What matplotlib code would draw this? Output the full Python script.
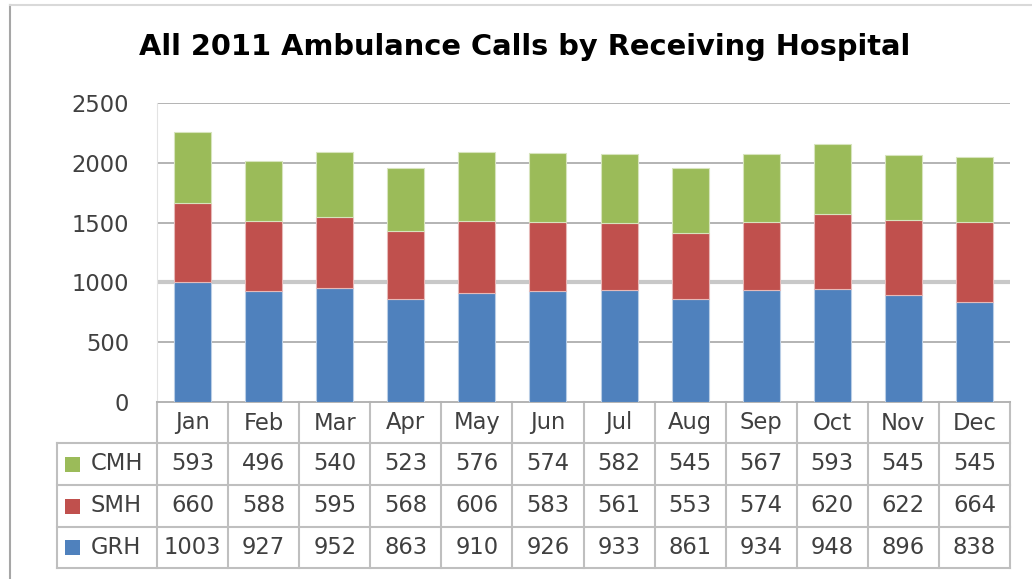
import matplotlib
matplotlib.use("Agg")
import matplotlib.pyplot as plt
from matplotlib.transforms import blended_transform_factory
from matplotlib.lines import Line2D
from matplotlib.patches import Rectangle
import numpy as np

months = ["Jan", "Feb", "Mar", "Apr", "May", "Jun", "Jul", "Aug", "Sep", "Oct", "Nov", "Dec"]
grh = [1003, 927, 952, 863, 910, 926, 933, 861, 934, 948, 896, 838]
smh = [660, 588, 595, 568, 606, 583, 561, 553, 574, 620, 622, 664]
cmh = [593, 496, 540, 523, 576, 574, 582, 545, 567, 593, 545, 545]
series_names = ["CMH", "SMH", "GRH"]
yticks = [0, 500, 1000, 1500, 2000, 2500]
title = "All 2011 Ambulance Calls by Receiving Hospital"

c_blue = "#4F81BD"
c_red = "#C0504D"
c_green = "#9BBB59"
txt = "#404040"
grid = "#B3B3B3"
FS = 16.3

plt.rcParams['font.family'] = ['DejaVu Sans']

W, H = 1032, 579
fig = plt.figure(figsize=(W / 100, H / 100), dpi=100)
fig.patch.set_facecolor("white")

L, R, T, B = 157, 1010, 103, 402
ax = fig.add_axes([L / W, 1 - B / H, (R - L) / W, (B - T) / H])

x = np.arange(len(months))
bw = 0.52
g = np.array(grh); s = np.array(smh); c = np.array(cmh)
ax.bar(x, g, bw, color=c_blue, edgecolor="#B9CDE5", linewidth=0.8, zorder=3)
ax.bar(x, s, bw, bottom=g, color=c_red, edgecolor="#E6B9B8", linewidth=0.8, zorder=3)
ax.bar(x, c, bw, bottom=g + s, color=c_green, edgecolor="#D7E4BD", linewidth=0.8, zorder=3)

ax.set_xlim(-0.5, len(months) - 0.5)
ax.set_ylim(0, 2500)
ax.set_yticks(yticks)
ax.set_yticklabels([str(v) for v in yticks], fontsize=FS, color=txt)
ax.tick_params(axis="y", length=0, pad=20)
ax.set_xticks([])
for yv in yticks[1:]:
    if yv == 1000:
        ax.axhline(yv, color="#C8C8C8", linewidth=3.0, zorder=1)
    else:
        ax.axhline(yv, color=grid, linewidth=1.4, zorder=1)
for sp in ["top", "right"]:
    ax.spines[sp].set_visible(False)
ax.spines["left"].set_color("#E3E3E3")
ax.spines["left"].set_linewidth(0.8)
ax.spines["bottom"].set_color(grid)
ax.spines["bottom"].set_linewidth(1.4)

fig.text(0.508, 1 - 47 / H, title, ha="center", va="center", fontsize=20.8,
         fontweight="bold", color="#000000")

# Data table below the axes
tr = blended_transform_factory(ax.transData, ax.transAxes)
ah = B - T
def ya(px):
    return (B - px) / ah

rows_px = [402, 443, 485, 527, 568]
px_unit = (R - L) / 12
xleft = -0.5 - (L - 57) / px_unit
tcol = "#BFBFBF"
for yp in rows_px[1:]:
    ax.add_line(Line2D([xleft, 11.5], [ya(yp)] * 2, transform=tr, color=tcol, lw=1.5, clip_on=False))
for k in range(13):
    ax.add_line(Line2D([k - 0.5] * 2, [ya(402), ya(568)], transform=tr, color=tcol, lw=1.5, clip_on=False))
ax.add_line(Line2D([xleft] * 2, [ya(443), ya(568)], transform=tr, color=tcol, lw=1.5, clip_on=False))

for i, m in enumerate(months):
    ax.text(i, ya(423), m, transform=tr, ha="center", va="center", fontsize=FS, color=txt, clip_on=False)

table_vals = [cmh, smh, grh]
colors = [c_green, c_red, c_blue]
for r, (name, vals, col) in enumerate(zip(series_names, table_vals, colors)):
    yc = ya((rows_px[r + 1] + rows_px[r + 2]) / 2)
    sq_x = -0.5 - (L - 65) / px_unit
    ax.add_patch(Rectangle((sq_x, yc - 7.5 / ah), 15 / px_unit, 15 / ah, transform=tr,
                           facecolor=col, edgecolor="none", clip_on=False))
    ax.text(-0.5 - (L - 91) / px_unit, yc, name, transform=tr, ha="left", va="center",
            fontsize=FS, color=txt, clip_on=False)
    for i, v in enumerate(vals):
        ax.text(i, yc, str(v), transform=tr, ha="center", va="center", fontsize=FS,
                color=txt, clip_on=False)

fig.add_artist(Line2D([10 / W, 10 / W], [0, 1 - 5 / H], transform=fig.transFigure, color="#A6A6A6", lw=1.5))
fig.add_artist(Line2D([10 / W, 1], [1 - 5 / H, 1 - 5 / H], transform=fig.transFigure, color="#D9D9D9", lw=1.5))

fig.savefig("out.png", dpi=100, facecolor="white")
